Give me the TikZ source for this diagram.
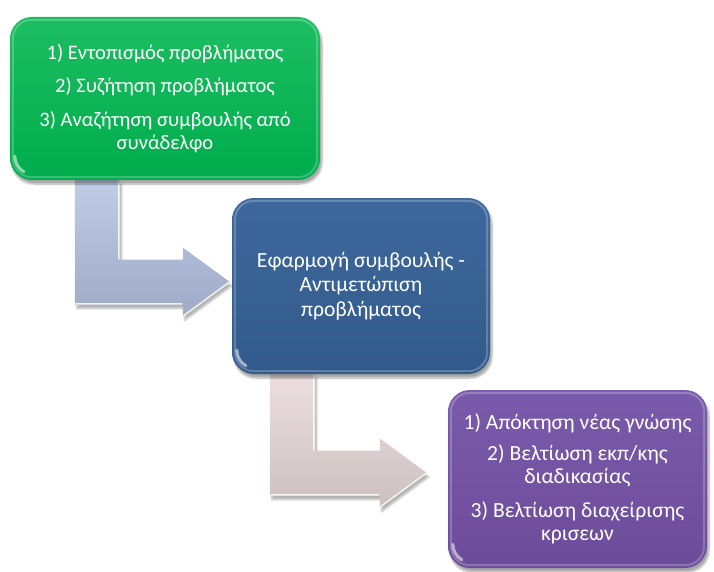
\documentclass[tikz,border=0pt]{standalone}
\usepackage{fontspec}
\setmainfont{Carlito}
\usetikzlibrary{calc,shadows.blur}

\definecolor{greenA}{RGB}{28,190,98}
\definecolor{greenB}{RGB}{0,172,76}
\definecolor{blueA}{RGB}{62,104,156}
\definecolor{blueB}{RGB}{50,90,140}
\definecolor{purpleA}{RGB}{122,90,170}
\definecolor{purpleB}{RGB}{108,76,154}
\definecolor{steelA}{RGB}{192,205,230}
\definecolor{steelB}{RGB}{158,170,198}
\definecolor{roseA}{RGB}{236,222,222}
\definecolor{roseB}{RGB}{204,192,192}

\pgfdeclarelayer{background}
\pgfsetlayers{background,main}

\tikzset{
  stagebox/.style={rounded corners=22pt, text=white, align=center, inner sep=0pt,
    blur shadow={shadow xshift=2pt, shadow yshift=-4pt, shadow blur steps=6, shadow opacity=35}},
  bentshape/.style={blur shadow={shadow xshift=2pt, shadow yshift=-4pt, shadow blur steps=6, shadow opacity=30}},
  gloss/.style={draw=white, line width=1.4pt, opacity=0.85, line cap=round},
}

% L-shaped block arrow: #1 = upper left corner of the shaft, #2 = tip,
% #3/#4 = top and bottom shading colours
\newcommand\bentarrow[4]{%
  \path[bentshape, top color=#3, bottom color=#4]
    let \p1=(#1), \p2=(#2) in
    (\x1,\y1) -- (\x1+45pt,\y1) -- (\x1+45pt,\y2+22.5pt) -- (\x2-47pt,\y2+22.5pt)
    -- (\x2-47pt,\y2+34.5pt) -- (\x2,\y2) -- (\x2-47pt,\y2-34.5pt)
    -- (\x2-47pt,\y2-22.5pt) -- (\x1,\y2-22.5pt) -- cycle;
  \draw[gloss] let \p1=(#1), \p2=(#2) in
    (\x1+1pt,\y2-21.8pt) -- (\x2-48pt,\y2-21.8pt)
    (\x2-46pt,\y2-33.5pt) -- (\x2-1pt,\y2-0.5pt)
    (\x1+44pt,\y1) -- (\x1+44pt,\y2+23pt);
}

\begin{document}
\begin{tikzpicture}[x=1pt,y=-1pt]
\useasboundingbox (0,0) rectangle (714,572);

% stage boxes
\node[stagebox, font=\fontsize{20.6}{23}\selectfont, top color=greenA, bottom color=greenB,
      minimum width=310pt, minimum height=163pt] (g) at (165,98.5)
  {1) Εντοπισμός προβλήματος\\[10.5pt]
   2) Συζήτηση προβλήματος\\[10.5pt]
   3) Αναζήτηση συμβουλής από\\ συνάδελφο};

\node[stagebox, font=\fontsize{21.6}{24.5}\selectfont, top color=blueA, bottom color=blueB,
      minimum width=258pt, minimum height=176pt] (b) at (361,286)
  {Εφαρμογή συμβουλής -\\ Αντιμετώπιση\\ προβλήματος};

\node[stagebox, font=\fontsize{21.6}{23}\selectfont, top color=purpleA, bottom color=purpleB,
      minimum width=259pt, minimum height=178pt] (p) at (577.5,479)
  {1) Απόκτηση νέας γνώσης\\[8pt]
   2) Βελτίωση εκπ/κης\\ διαδικασίας\\[11pt]
   3) Βελτίωση διαχείρισης\\ κρισεων};

% soft rim highlights on the boxes
\foreach \n in {g,b,p}{
  \draw[white, opacity=0.22, line width=2pt, rounded corners=19pt]
    ($(\n.south west)+(3,-3)$) rectangle ($(\n.north east)+(-3,3)$);
  \draw[white, opacity=0.55, line width=3pt, line cap=round]
    ($(\n.south west)+(5,-24)$) arc[start angle=180, end angle=240, radius=18pt];
}

% bent arrows between the stages
\begin{pgfonlayer}{background}
  \bentarrow{$(g.south west)+(65,0)$}{$(b.west)+(-2,-4)$}{steelA}{steelB}
  \bentarrow{$(b.south west)+(38,0)$}{$(p.west)+(-21,-6)$}{roseA}{roseB}
\end{pgfonlayer}
\end{tikzpicture}
\end{document}
